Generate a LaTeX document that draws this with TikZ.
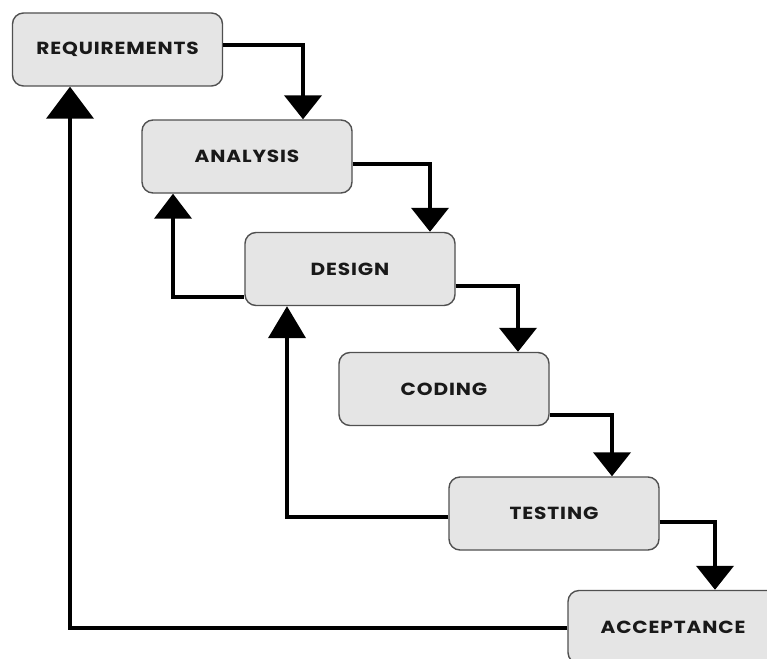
\documentclass[tikz,border=0pt]{standalone}
\usepackage{fontspec}
\setmainfont{Poppins}
\newfontfamily\boxfont{Poppins}[FakeStretch=1.15, LetterSpace=5]
\usetikzlibrary{arrows.meta}
\definecolor{boxfill}{RGB}{229,229,229}
\definecolor{boxline}{RGB}{80,80,80}
\tikzset{
  stage/.style={draw=boxline, line width=1.4pt, fill=boxfill, rounded corners=11pt,
    minimum width=210pt, minimum height=73pt, inner sep=0pt,
    font=\boxfont\fontsize{17.5}{20}\selectfont\bfseries, text=black!90},
  flow/.style={line width=4.2pt, line join=miter, line cap=butt,
    -{Triangle[width=37pt,length=24pt]}},
}
\begin{document}
\begin{tikzpicture}[x=1pt,y=-1pt]
\useasboundingbox (0,0) rectangle (767,658);
\clip (0,0) rectangle (767,658);
\fill[white] (0,0) rectangle (767,658);
\node[stage] (req) at (117.5,49.5) {REQUIREMENTS};
\node[stage] (ana) at (247,156.5) {ANALYSIS};
\node[stage] (des) at (350,269) {DESIGN};
\node[stage] (cod) at (444,389) {CODING};
\node[stage] (tes) at (554,513.5) {TESTING};
\node[stage] (acc) at (673,627) {ACCEPTANCE};
% forward flow
\draw[flow] ([yshift=4.5pt]req.east) -| ([xshift=56pt]ana.north);
\draw[flow] ([yshift=-7.5pt]ana.east) -| ([xshift=80pt]des.north);
\draw[flow] ([yshift=-17pt]des.east) -| ([xshift=74pt]cod.north);
\draw[flow] ([yshift=-26pt]cod.east) -| ([xshift=58pt]tes.north);
\draw[flow] ([yshift=-8.5pt]tes.east) -| ([xshift=42pt]acc.north);
% feedback
\draw[flow, -{Triangle[width=37pt,length=25pt]}] ([yshift=-28pt]des.west) -| ([xshift=-74pt]ana.south);
\draw[flow, -{Triangle[width=37pt,length=32pt]}] ([yshift=-3.5pt]tes.west) -| ([xshift=-63pt]des.south);
\draw[flow, -{Triangle[width=47pt,length=32pt]}] ([yshift=-1pt]acc.west) -| ([xshift=-47.5pt]req.south);
\end{tikzpicture}
\end{document}
